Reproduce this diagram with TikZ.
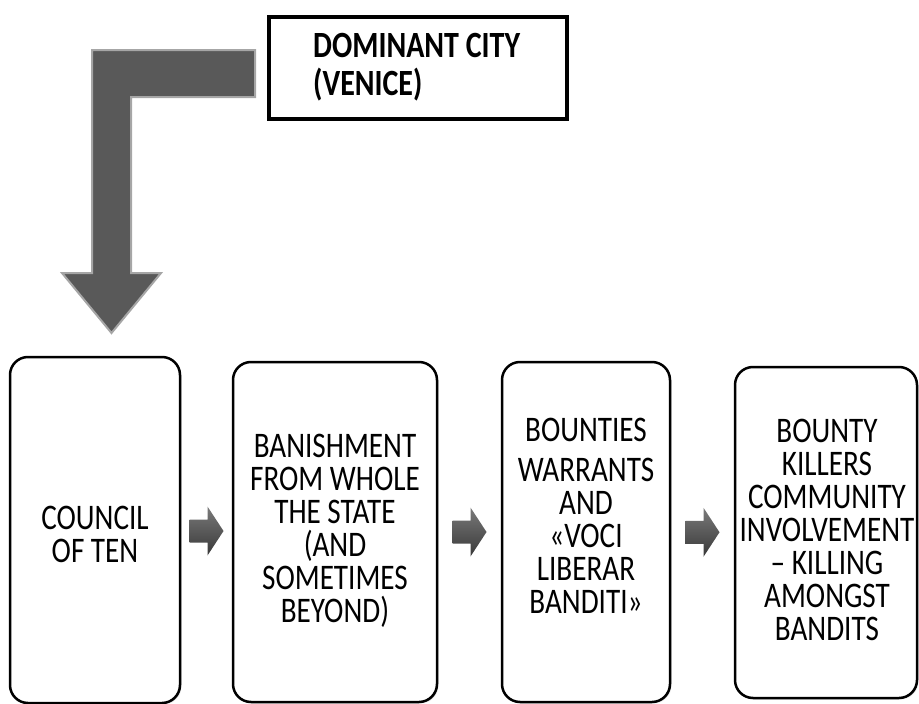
\documentclass[tikz,border=0pt]{standalone}
\usepackage{fontspec}
\setmainfont{Carlito}[FakeStretch=0.81]
\usetikzlibrary{shadows,calc}

\definecolor{bendfill}{HTML}{595959}
\definecolor{bendedge}{HTML}{A6A6A6}
\definecolor{arrowtop}{HTML}{7A7A7A}
\definecolor{arrowbot}{HTML}{383838}

\tikzset{
  stagebox/.style={draw=black, line width=2.5pt, rounded corners=18pt, fill=white,
    drop shadow={opacity=0.18, shadow xshift=1.5pt, shadow yshift=-1.5pt}},
  stagetext/.style={align=center, inner sep=0pt, font=\fontsize{36}{33}\selectfont},
  citybox/.style={draw=black, line width=4pt, fill=white, inner sep=0pt},
  citytext/.style={align=left, inner sep=0pt, font=\bfseries\fontsize{37}{38}\selectfont},
  bendarrow/.style={fill=bendfill, draw=bendedge, line width=2pt, line join=miter},
  arrowshade/.style={top color=arrowtop, bottom color=arrowbot, draw=none},
  flowarrow/.pic={
    \shade[arrowshade] (-17,-11.5) -- (1,-11.5) -- (1,-24.5) -- (17,0)
      -- (1,24.5) -- (1,11.5) -- (-17,11.5) -- cycle;
  }
}

\begin{document}
\begin{tikzpicture}[x=1pt, y=-1pt]
  \useasboundingbox (0,0) rectangle (919,704);

  % heading box
  \node[citybox, minimum width=298pt, minimum height=102pt, anchor=north west]
    (city) at (267,15) {};
  \node[citytext, anchor=north west] (citylabel) at (313,33)
    {DOMINANT CITY\\(VENICE)};

  % bent arrow leading down to the first stage
  \draw[bendarrow] (255,50) -- (92,50) -- (92,273) -- (62,273) -- (111.5,333)
    -- (161,273) -- (131,273) -- (131,97) -- (255,97) -- cycle;

  % stage boxes
  \node[stagebox, minimum width=170pt, minimum height=346pt] (b1) at (95,530) {};
  \node[stagebox, minimum width=204pt, minimum height=340pt] (b2) at (335,532) {};
  \node[stagebox, minimum width=168pt, minimum height=340pt] (b3) at (586,532) {};
  \node[stagebox, minimum width=182pt, minimum height=331pt] (b4) at (826,532.5) {};

  % stage texts
  \node[stagetext] (t1) at (95,534.5) {COUNCIL\\OF TEN};
  \node[stagetext] (t2) at (335,531)
    {BANISHMENT\\FROM WHOLE\\THE STATE\\(AND\\SOMETIMES\\BEYOND)};
  \node[stagetext] (t3) at (586,515.5)
    {BOUNTIES\\[7pt]WARRANTS\\AND\\«VOCI\\LIBERAR\\BANDITI»};
  \node[stagetext] (t4) at (827,529.5)
    {BOUNTY\\KILLERS\\COMMUNITY\\INVOLVEMENT\\– KILLING\\AMONGST\\BANDITS};

  % arrows between stages
  \pic at ($(b1.east)!0.5!(b2.west)$) {flowarrow};
  \pic at ($(b2.east)!0.5!(b3.west)$) {flowarrow};
  \pic at ($(b3.east)!0.5!(b4.west)$) {flowarrow};
\end{tikzpicture}
\end{document}
